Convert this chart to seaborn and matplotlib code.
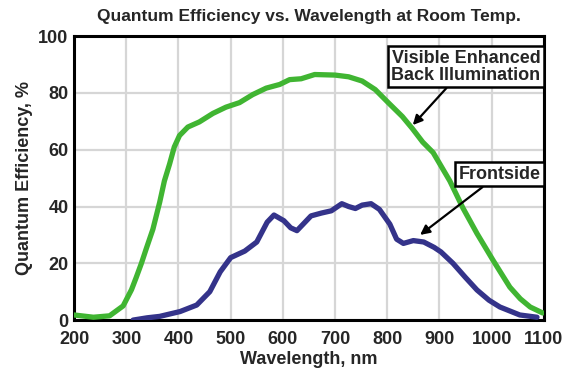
import matplotlib
matplotlib.use("Agg")
import matplotlib.pyplot as plt
import seaborn as sns
import pandas as pd

# Visible Enhanced Back Illumination curve
back_wl = [200, 237, 268, 294, 310, 319, 329, 338, 351, 364, 373, 383, 392, 402, 418,
           440, 466, 491, 517, 542, 568, 594, 613, 635, 661, 700, 726, 752, 777, 803,
           829, 848, 868, 888, 920, 945, 972, 1003, 1020, 1035, 1055, 1074, 1098]
back_qe = [1.8, 1.0, 1.5, 5.0, 10.7, 15.0, 20.0, 25.0, 32.0, 41.5, 49.0, 55.0, 61.0, 65.0, 68.0,
           69.8, 72.8, 75.0, 76.6, 79.4, 81.7, 83.0, 84.7, 85.0, 86.5, 86.3, 85.7, 84.2, 81.2, 76.4,
           71.7, 67.5, 62.7, 59.0, 49.0, 39.5, 30.5, 21.0, 16.0, 11.6, 7.5, 4.6, 2.5]

# Frontside curve
front_wl = [313, 340, 364, 403, 435, 460, 480, 500, 527, 550, 570, 583, 602, 615, 627,
            640, 654, 674, 693, 713, 726, 739, 752, 769, 785, 805, 818, 831, 850, 870,
            890, 903, 926, 950, 972, 995, 1016, 1054, 1087]
front_qe = [0.0, 0.8, 1.3, 3.0, 5.3, 10.0, 17.0, 22.0, 24.3, 27.5, 34.5, 37.0, 35.0, 32.5, 31.5,
            34.0, 36.7, 37.7, 38.5, 41.0, 40.0, 39.3, 40.5, 41.0, 39.0, 33.8, 28.5, 27.0, 28.0, 27.5,
            25.6, 24.0, 20.0, 15.0, 10.6, 7.0, 4.6, 1.8, 1.0]

series_names = ["Visible Enhanced\nBack Illumination", "Frontside"]
x_ticks = [200, 300, 400, 500, 600, 700, 800, 900, 1000, 1100]
y_ticks = [0, 20, 40, 60, 80, 100]
title = "Quantum Efficiency vs. Wavelength at Room Temp."
x_label = "Wavelength, nm"
y_label = "Quantum Efficiency, %"

df = pd.concat([
    pd.DataFrame({"wl": back_wl, "qe": back_qe, "series": series_names[0]}),
    pd.DataFrame({"wl": front_wl, "qe": front_qe, "series": series_names[1]}),
])

sns.set_style("white")
FONT = ["Liberation Sans", "DejaVu Sans"]
plt.rcParams["font.family"] = FONT
plt.rcParams["font.weight"] = "bold"

fig = plt.figure(figsize=(5.7, 3.77), dpi=100)
ax = fig.add_axes([0.130, 0.151, 0.824, 0.753])

palette = {series_names[0]: "#40b532", series_names[1]: "#34338a"}
sns.lineplot(data=df, x="wl", y="qe", hue="series", palette=palette, ax=ax,
             linewidth=3.8, legend=False, sort=True, zorder=3)
for line in ax.get_lines():
    line.set_solid_capstyle("round")
    line.set_solid_joinstyle("round")

ax.set_xlim(200, 1100)
ax.set_ylim(0, 100)
ax.set_xticks(x_ticks)
ax.set_yticks(y_ticks)
ax.set_xticklabels([str(t) for t in x_ticks], fontsize=13, fontweight="bold")
ax.set_yticklabels([str(t) for t in y_ticks], fontsize=13, fontweight="bold")
ax.tick_params(axis="x", length=0, pad=8)
ax.tick_params(axis="y", length=0, pad=4)
ax.grid(True, color="#d6d6d6", linewidth=1.6, zorder=0)
ax.set_axisbelow(True)
for s in ax.spines.values():
    s.set_color("black")
    s.set_linewidth(2.2)

ax.set_xlabel(x_label, fontsize=13, fontweight="bold", labelpad=2)
ax.set_ylabel(y_label, fontsize=13, fontweight="bold", labelpad=4)
ax.set_title(title, fontsize=12.5, fontweight="bold", pad=11)

bbox = dict(boxstyle="square,pad=0.2", fc="white", ec="black", lw=1.8)
arrow = dict(arrowstyle="-|>", color="black", lw=1.6, mutation_scale=14, shrinkA=0, shrinkB=0)
ax.annotate(series_names[0], xy=(849, 68.7), xytext=(951, 89.3), ha="center", va="center",
            fontsize=13, fontweight="bold", bbox=bbox, arrowprops=arrow, linespacing=1.0,
            zorder=5, annotation_clip=False)
ax.annotate(series_names[1], xy=(863, 30), xytext=(1015, 51.4), ha="center", va="center",
            fontsize=13, fontweight="bold", bbox=bbox, arrowprops=arrow, zorder=5)

fig.savefig("out.png", dpi=100)
